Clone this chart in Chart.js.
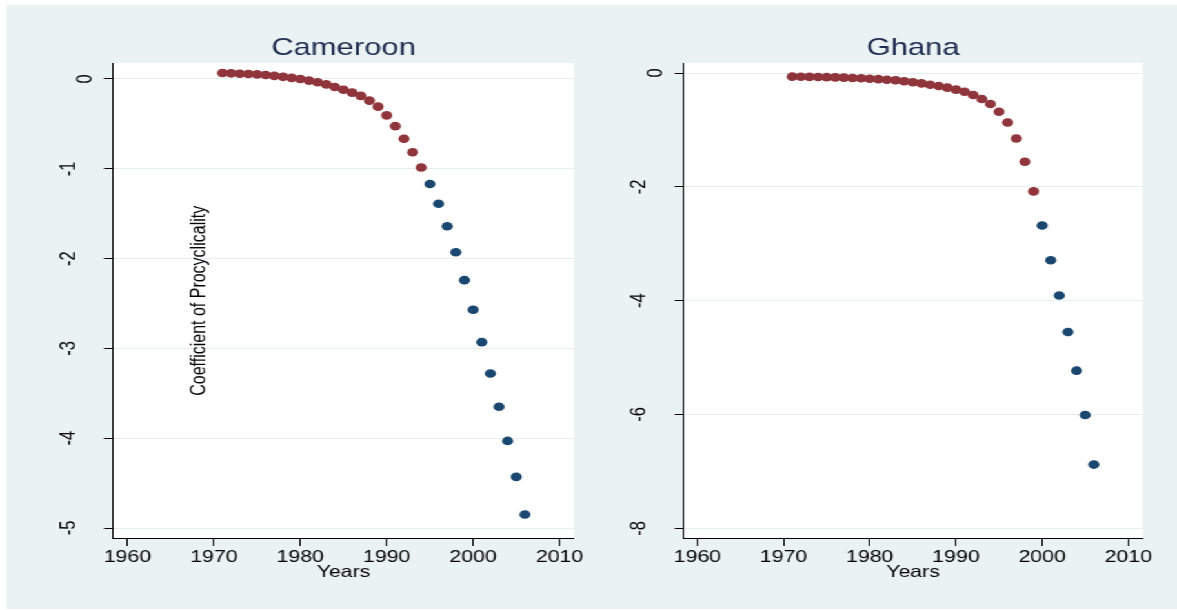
<!DOCTYPE html>
<html>
<head>
<meta charset="utf-8">
<script src="https://cdn.jsdelivr.net/npm/chart.js@4.4.1/dist/chart.umd.min.js"></script>
<style>
  html, body { margin: 0; padding: 0; background: #fff; overflow: hidden; }
  /* the original picture is stretched sideways, so draw narrow and stretch */
  #frame { position: absolute; left: 0; top: 0; width: 912px; height: 610px;
           transform: scaleX(1.29057); transform-origin: 0 0; }
  #bg { position: absolute; left: 5.4px; top: 5px; right: 0; bottom: 1px; background: #eaf2f3; }
  .panel { position: absolute; top: 0; width: 456px; height: 610px; }
</style>
</head>
<body>
<div id="frame">
  <div id="bg"></div>
  <div class="panel" style="left:0"><canvas id="cam"></canvas></div>
  <div class="panel" style="left:456px"><canvas id="gha"></canvas></div>
</div>
<script>
// Rolling coefficient of procyclicality, Cameroon and Ghana.

const years = [1971, 1972, 1973, 1974, 1975, 1976, 1977, 1978, 1979, 1980,
               1981, 1982, 1983, 1984, 1985, 1986, 1987, 1988, 1989, 1990,
               1991, 1992, 1993, 1994, 1995, 1996, 1997, 1998, 1999, 2000,
               2001, 2002, 2003, 2004, 2005, 2006];

const camCoef = [0.067, 0.063, 0.059, 0.055, 0.051, 0.045, 0.035, 0.024, 0.012, 0.000,
                 -0.018, -0.037, -0.060, -0.090, -0.120, -0.152, -0.188, -0.241, -0.308, -0.405,
                 -0.525, -0.665, -0.815, -0.985, -1.17, -1.39, -1.64, -1.93, -2.24, -2.57,
                 -2.93, -3.28, -3.65, -4.03, -4.43, -4.85];
const camSplitYear = 1995;   // blue markers from here on

const ghaCoef = [-0.064, -0.065, -0.068, -0.070, -0.073, -0.076, -0.081, -0.087, -0.093, -0.100,
                 -0.107, -0.117, -0.128, -0.145, -0.163, -0.182, -0.205, -0.228, -0.257, -0.292,
                 -0.330, -0.387, -0.457, -0.545, -0.68, -0.87, -1.15, -1.56, -2.08, -2.68,
                 -3.29, -3.91, -4.55, -5.23, -6.01, -6.88];
const ghaSplitYear = 2000;

const xTicks = [1960, 1970, 1980, 1990, 2000, 2010];
const camYTicks = [0, -1, -2, -3, -4, -5];
const ghaYTicks = [0, -2, -4, -6, -8];

const RED = '#90353b';
const BLUE = '#1a476f';
const FONT = '"Liberation Sans", Arial, Helvetica, sans-serif';

Chart.defaults.font.family = FONT;
Chart.defaults.color = '#000';

const plotBg = {
  id: 'plotBg',
  beforeDraw(chart) {
    const a = chart.chartArea, ctx = chart.ctx;
    ctx.save();
    ctx.fillStyle = '#fff';
    ctx.fillRect(a.left, a.top, a.right - a.left, a.bottom - a.top);
    ctx.restore();
  }
};

// the y title sits inside the plot in the original
const sideLabel = {
  id: 'sideLabel',
  afterDraw(chart, args, opts) {
    if (!opts.text) return;
    const { ctx, scales: { x, y } } = chart;
    ctx.save();
    ctx.translate(x.getPixelForValue(opts.at[0]), y.getPixelForValue(opts.at[1]));
    ctx.rotate(-Math.PI / 2);
    ctx.font = '16px ' + FONT;
    ctx.fillStyle = '#000';
    ctx.textAlign = 'center';
    ctx.textBaseline = 'middle';
    ctx.fillText(opts.text, 0, 0);
    ctx.restore();
  }
};

function points(coef, from, to) {
  const out = [];
  years.forEach((yr, i) => { if (yr >= from && yr < to) out.push({ x: yr, y: coef[i] }); });
  return out;
}

function panel(id, title, coef, split, yTicks, yMin, yMax, xMin, xMax, axisW, padRight, side) {
  return new Chart(document.getElementById(id), {
    type: 'scatter',
    data: {
      datasets: [
        { data: points(coef, 0, split), pointBackgroundColor: RED, backgroundColor: RED },
        { data: points(coef, split, 9999), pointBackgroundColor: BLUE, backgroundColor: BLUE },
      ]
    },
    options: {
      responsive: true,
      maintainAspectRatio: false,
      animation: false,
      layout: { padding: { left: 0, right: padRight, top: 0, bottom: 27.4 } },
      elements: { point: { radius: 4.3, borderWidth: 0, hoverRadius: 4.3 } },
      plugins: {
        legend: { display: false },
        tooltip: { enabled: false },
        title: {
          display: true, text: title, fullSize: false, color: '#1c2b4f',
          font: { size: 24, weight: 'normal', lineHeight: 1.2 },
          padding: { top: 33.6, bottom: 0.6 }
        },
        sideLabel: side || {}
      },
      scales: {
        x: {
          type: 'linear', min: xMin, max: xMax,
          afterBuildTicks: s => { s.ticks = xTicks.map(v => ({ value: v })); },
          afterFit: s => { s.height = 44.6; },
          grid: { drawOnChartArea: false, tickLength: 8, tickColor: '#000' },
          border: { color: '#000', width: 1 },
          ticks: { callback: v => String(v), padding: 2, font: { size: 16.5 }, color: '#000', autoSkip: false },
          title: { display: true, text: 'Years', font: { size: 16.5 }, color: '#000', padding: 0 }
        },
        y: {
          type: 'linear', min: yMin, max: yMax,
          afterBuildTicks: s => { s.ticks = yTicks.map(v => ({ value: v })); },
          afterFit: s => { s.width = axisW; },
          grid: { color: '#e6eef1', lineWidth: 1, tickLength: 7, tickColor: '#000' },
          border: { color: '#000', width: 1 },
          ticks: {
            // negative labels sit a little further out in the original
            callback: v => v < 0 ? [String(v), ''] : String(v),
            minRotation: 90, maxRotation: 90, crossAlign: 'center', padding: 7,
            font: { size: 16.5, lineHeight: 25 / 16.5 }, color: '#000', autoSkip: false
          }
        }
      }
    },
    plugins: [plotBg, sideLabel]
  });
}

panel('cam', 'Cameroon', camCoef, camSplitYear, camYTicks, -5.111, 0.178, 1958.33, 2011.68, 87.6, 11.2,
      { text: 'Coefficient of Procyclicality', at: [1968.3, -2.47] });
panel('gha', 'Ghana', ghaCoef, ghaSplitYear, ghaYTicks, -8.17, 0.176, 1958.4, 2011.65, 73.7, 26.7, null);
</script>
</body>
</html>
